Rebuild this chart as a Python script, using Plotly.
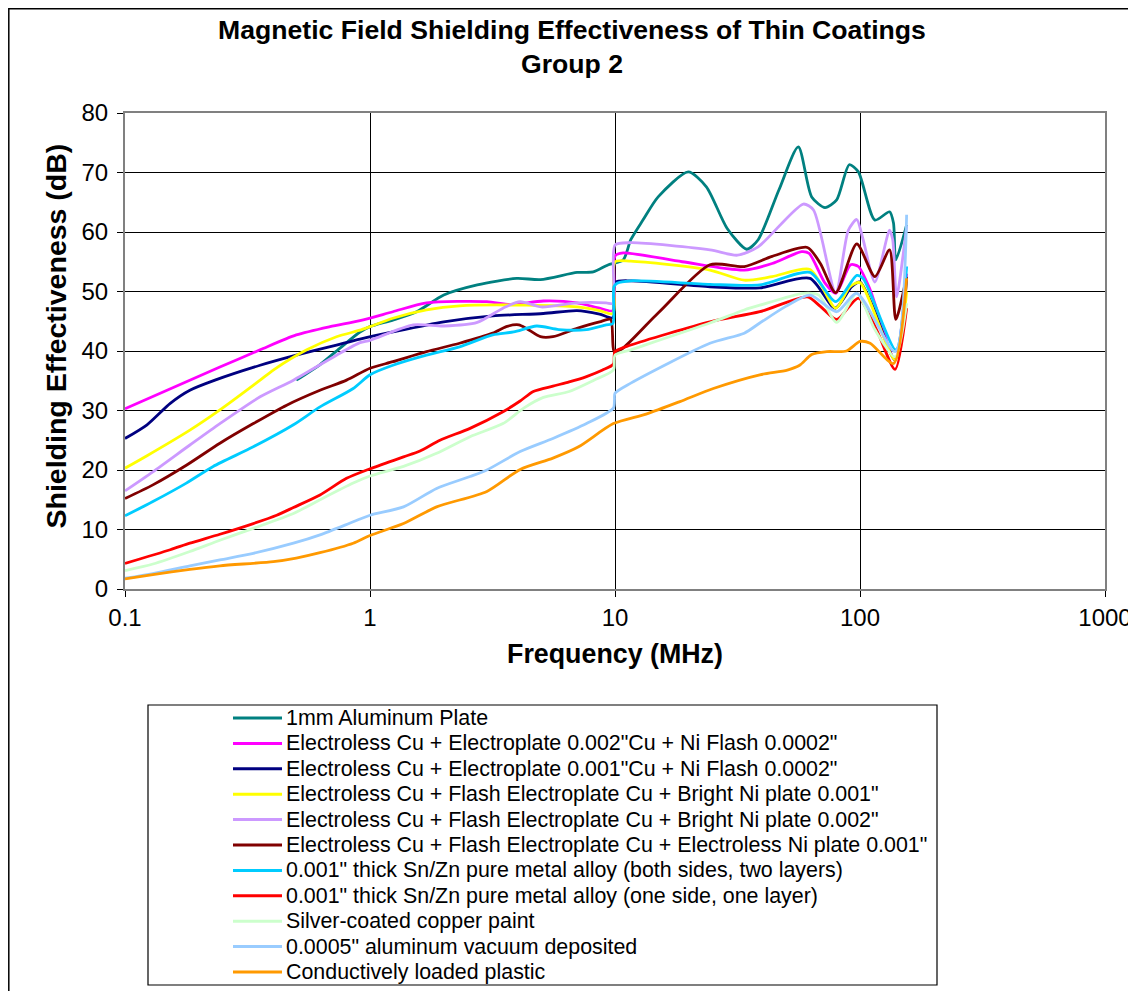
import plotly.graph_objects as go

# ---------------- data ----------------
names = [
    "1mm Aluminum Plate",
    "Electroless Cu + Electroplate 0.002\"Cu + Ni Flash 0.0002\"",
    "Electroless Cu + Electroplate 0.001\"Cu + Ni Flash 0.0002\"",
    "Electroless Cu + Flash Electroplate Cu + Bright Ni plate 0.001\"",
    "Electroless Cu + Flash Electroplate Cu + Bright Ni plate 0.002\"",
    "Electroless Cu + Flash Electroplate Cu + Electroless Ni plate 0.001\"",
    "0.001\" thick Sn/Zn pure metal alloy (both sides, two layers)",
    "0.001\" thick Sn/Zn pure metal alloy (one side, one layer)",
    "Silver-coated copper paint",
    "0.0005\" aluminum vacuum deposited",
    "Conductively loaded plastic",
]
colors = ["#008080", "#FF00FF", "#000080", "#FFFF00", "#CC99FF", "#800000",
          "#00CCFF", "#FF0000", "#CCFFCC", "#99CCFF", "#FF9900"]

al_f = [0.5, 0.62, 0.75, 0.91, 1.0, 1.24, 1.55, 2.0, 2.74, 3.97, 4.96, 7.0, 8.15, 9.4, 10.8,
        11.6, 13.0, 15.0, 19.9, 23.6, 28.7, 34.5, 38.4, 46.7, 56.0, 63.5, 72.0, 80.3, 90.4,
        98.5, 115, 132, 137, 140, 155]
al_db = [35.1, 37.6, 40.4, 43.2, 44.1, 45.2, 46.6, 49.4, 51.1, 52.2, 52.0, 53.2, 53.3, 54.5, 55.3,
         58.7, 62.0, 65.9, 70.1, 67.6, 60.6, 57.1, 58.7, 67.1, 74.3, 65.9, 64.1, 65.4, 71.3,
         70.1, 62.0, 63.4, 61.5, 55.3, 61.2]

cu2_f = [0.1, 0.244, 0.356, 0.5, 0.687, 0.91, 1.24, 1.70, 3.0, 3.73, 5.1, 7.0, 8.65, 9.8, 10.0,
         10.8, 18.8, 33.7, 43.8, 57.8, 62, 72, 79.6, 91.6, 98.5, 110, 139, 155]
cu2_db = [30.3, 37.3, 40.2, 42.7, 44.1, 45.1, 46.6, 48.1, 48.3, 47.8, 48.4, 48.1, 47.2, 46.8, 56.0,
          56.5, 55.0, 53.6, 54.7, 56.7, 56.4, 51.4, 49.7, 54.5, 54.2, 50.3, 38.5, 53.0]

cu1_f = [0.1, 0.123, 0.153, 0.184, 0.233, 0.356, 0.5, 0.73, 0.91, 1.24, 2.0, 3.17, 5.1, 7.0, 8.65,
         9.8, 10.0, 11.6, 24.4, 39, 62.5, 79, 92.5, 100, 113, 139, 155]
cu1_db = [25.3, 27.6, 31.2, 33.4, 35.1, 37.6, 39.3, 41.0, 42.0, 43.2, 44.9, 45.9, 46.3, 46.8, 46.2,
          45.6, 51.5, 51.8, 50.8, 50.6, 52.2, 47.2, 50.8, 51.6, 47.4, 38.5, 52.0]

bn1_f = [0.1, 0.123, 0.184, 0.244, 0.356, 0.403, 0.552, 0.73, 0.91, 1.0, 1.24, 1.70, 2.32, 4.35,
         7.0, 8.65, 9.8, 10.0, 11.6, 24.4, 33.7, 43.8, 62.5, 79.6, 91, 100, 139, 155]
bn1_db = [20.3, 22.4, 26.7, 30.1, 35.1, 36.8, 40.2, 42.4, 43.5, 44.1, 45.5, 46.9, 47.6, 47.7,
          47.4, 46.8, 46.3, 55.0, 55.1, 53.6, 51.9, 52.5, 53.7, 47.2, 50.8, 51.5, 38.5, 50.0]

bn2_f = [0.1, 0.130, 0.184, 0.244, 0.356, 0.487, 0.73, 0.91, 1.0, 1.5, 2.0, 2.74, 3.49, 4.1, 5.0,
         7.0, 9.2, 9.8, 10.0, 11.6, 24.4, 31.6, 38.4, 58.7, 64.6, 79.6, 89.6, 97, 103, 115, 132,
         136, 141, 155]
bn2_db = [16.5, 19.7, 24.2, 27.8, 32.3, 35.1, 39.3, 41.4, 41.8, 44.4, 44.2, 44.8, 47.2, 48.3, 47.4,
          48.1, 48.1, 48.0, 57.8, 58.2, 57.0, 56.1, 57.5, 64.7, 63.7, 49.8, 60.3, 62.1, 58.7, 51.6,
          60.3, 58.7, 49.1, 61.0]

en_f = [0.1, 0.130, 0.178, 0.244, 0.334, 0.457, 0.625, 0.802, 1.0, 1.24, 1.70, 2.32, 3.17, 3.6,
        4.05, 4.35, 4.96, 5.58, 7.0, 8.65, 9.6, 10.0, 15.0, 24.4, 33.7, 43.8, 61, 68.9, 79.6, 97,
        115, 132, 140, 155]
en_db = [15.2, 17.5, 20.8, 24.5, 27.8, 30.9, 33.4, 35.1, 37.1, 38.2, 39.9, 41.3, 43.0, 44.1,
         44.4, 43.8, 42.4, 42.4, 43.8, 44.9, 45.3, 39.7, 46.4, 54.5, 54.2, 55.9, 57.4, 54.7, 49.8,
         58.0, 52.5, 57.0, 45.3, 52.5]

sn2_f = [0.1, 0.130, 0.178, 0.229, 0.334, 0.487, 0.625, 0.854, 1.0, 1.24, 1.70, 2.32, 3.17, 3.86,
         4.79, 5.9, 7.65, 9.2, 9.8, 9.9, 10.2, 11.6, 24.4, 39, 62.5, 79.6, 97, 103, 140, 155]
sn2_db = [12.3, 14.7, 17.8, 20.6, 23.9, 27.6, 30.6, 33.7, 36.0, 37.6, 39.3, 40.7, 42.7, 43.2,
          44.2, 43.6, 43.6, 44.4, 44.6, 50.8, 51.4, 51.8, 51.2, 51.1, 53.2, 48.3, 52.7, 52.2,
          40.2, 54.2]

sn1_f = [0.1, 0.153, 0.184, 0.244, 0.334, 0.416, 0.487, 0.625, 0.802, 1.0, 1.37, 1.6, 1.93, 2.56,
         3.49, 4.1, 4.64, 5.58, 6.5, 7.65, 8.9, 9.85, 10.0, 11.6, 24.4, 39, 61, 68.9, 80.3, 98.5,
         117, 139, 155]
sn1_db = [4.3, 6.6, 7.7, 9.2, 11.0, 12.4, 13.7, 15.8, 18.6, 20.2, 22.2, 23.2, 25.0, 27.0,
          29.8, 31.6, 33.2, 34.1, 34.8, 35.7, 36.8, 37.8, 39.9, 41.0, 44.9, 46.6, 49.1, 47.5, 45.3,
          48.9, 43.5, 36.9, 47.2]

ag_f = [0.1, 0.130, 0.184, 0.244, 0.334, 0.487, 0.625, 0.854, 1.0, 1.37, 1.87, 2.56, 3.49, 4.24,
        5.1, 6.5, 8.2, 9.85, 10.0, 11.6, 24.4, 33.7, 39, 58.7, 68, 80.3, 97, 115, 139, 155]
ag_db = [3.1, 4.2, 6.3, 8.2, 10.2, 12.7, 15.0, 17.8, 19.0, 20.6, 22.8, 25.6, 27.8, 30.4,
         32.2, 33.2, 35.1, 36.8, 39.3, 40.2, 44.7, 46.9, 47.7, 49.7, 49.4, 44.8, 49.7, 43.6, 39.0,
         48.0]

vac_f = [0.1, 0.130, 0.184, 0.244, 0.334, 0.487, 0.625, 0.854, 1.0, 1.37, 1.87, 2.56, 3.0, 4.1,
         5.58, 7.65, 9.85, 9.95, 10.0, 11.6, 24.4, 33.7, 39, 49.8, 62.5, 80.3, 97, 139, 155]
vac_db = [1.8, 2.6, 3.9, 4.9, 6.0, 7.7, 9.1, 11.3, 12.4, 13.8, 16.9, 18.9, 20.0, 23.1,
          25.3, 27.8, 30.4, 31.8, 32.9, 34.6, 41.3, 43.0, 44.7, 47.5, 49.4, 46.6, 49.7, 39.9, 62.9]

pl_f = [0.1, 0.130, 0.184, 0.244, 0.403, 0.5, 0.625, 0.854, 1.0, 1.37, 1.87, 3.0, 4.1, 5.58, 7.1,
        9.85, 13.4, 18.4, 25.2, 39, 50.5, 56.7, 63.5, 73.2, 88, 100, 110, 137, 155]
pl_db = [1.7, 2.4, 3.3, 3.9, 4.6, 5.2, 6.1, 7.7, 9.0, 11.0, 13.8, 16.4, 20.1, 22.0, 23.9,
         27.8, 29.4, 31.5, 33.7, 36.0, 36.8, 37.6, 39.4, 39.9, 40.0, 41.6, 41.3, 37.9, 52.2]

series_f = [al_f, cu2_f, cu1_f, bn1_f, bn2_f, en_f, sn2_f, sn1_f, ag_f, vac_f, pl_f]
series_db = [al_db, cu2_db, cu1_db, bn1_db, bn2_db, en_db, sn2_db, sn1_db, ag_db, vac_db, pl_db]

x_tickvals = [0.1, 1, 10, 100, 1000]
x_ticktext = ["0.1", "1", "10", "100", "1000"]
y_tickvals = [0, 10, 20, 30, 40, 50, 60, 70, 80]

# ---------------- figure ----------------
# the page body has an 8px margin, so the figure is laid out 8px smaller
OFF = 8
W, H = 1136 - OFF, 991 - OFF
PL, PR, PT, PB = 125, 1105, 113, 589          # plot area in screen pixels
L, R, T, B = PL - OFF, OFF + W - PR, PT - OFF, OFF + H - PB
PW, PH = PR - PL, PB - PT
FONT = "Arial, Liberation Sans, sans-serif"


def px2x(px):
    return (px - PL) / PW


def px2y(py):
    return (PB - py) / PH


fig = go.Figure()
for nm, col, fx, dy in zip(names, colors, series_f, series_db):
    fig.add_trace(go.Scatter(x=fx, y=dy, name=nm, mode="lines",
                             line=dict(color=col, width=2.8, shape="spline", smoothing=0.7),
                             showlegend=False))

shapes = []
annotations = []
# outer chart frame
shapes.append(dict(type="rect", xref="paper", yref="paper",
                   x0=px2x(8.8), x1=px2x(1133), y0=px2y(1000), y1=px2y(8.8),
                   line=dict(color="black", width=1.5), layer="below"))
# legend box
shapes.append(dict(type="rect", xref="paper", yref="paper",
                   x0=px2x(148), x1=px2x(937), y0=px2y(985), y1=px2y(705),
                   line=dict(color="black", width=1.2)))
for i, (nm, col) in enumerate(zip(names, colors)):
    yc = 718 + 25.4 * i
    shapes.append(dict(type="line", xref="paper", yref="paper",
                       x0=px2x(233), x1=px2x(282), y0=px2y(yc), y1=px2y(yc),
                       line=dict(color=col, width=3)))
    annotations.append(dict(text=nm, xref="paper", yref="paper", x=px2x(284), y=px2y(yc),
                            xanchor="left", yanchor="middle", showarrow=False,
                            font=dict(family=FONT, size=21.4, color="black")))

# y-axis title (placed as in the reference, slightly above the plot centre)
annotations.append(dict(text="<b>Shielding Effectiveness (dB)</b>", xref="paper", yref="paper",
                        x=px2x(55), y=px2y(336.5), xanchor="center", yanchor="middle",
                        textangle=-90, showarrow=False,
                        font=dict(family=FONT, size=28.5, color="black")))

fig.update_layout(
    width=W, height=H,
    margin=dict(l=L, r=R, t=T, b=B, autoexpand=False),
    paper_bgcolor="white", plot_bgcolor="white",
    font=dict(family=FONT, color="black"),
    title=dict(text="<b>Magnetic Field Shielding Effectiveness of Thin Coatings<br>Group 2</b>",
               xref="container", x=(572 - OFF) / W, yref="container", y=1 - 30.5 / H,
               xanchor="center", yanchor="middle",
               font=dict(family=FONT, size=26.6, color="black")),
    shapes=shapes, annotations=annotations,
    showlegend=False,
)
fig.update_xaxes(type="log", range=[-1, 3], tickvals=x_tickvals, ticktext=x_ticktext,
                 automargin=False,
                 showgrid=True, gridcolor="black", gridwidth=1,
                 showline=True, linecolor="#808080", linewidth=2, mirror=True,
                 ticks="outside", ticklen=6, tickcolor="black",
                 tickfont=dict(family=FONT, size=24, color="black"),
                 title=dict(text="<b>Frequency (MHz)</b>", standoff=14,
                            font=dict(family=FONT, size=26.8, color="black")),
                 zeroline=False)
fig.update_yaxes(range=[0, 80], tickvals=y_tickvals, automargin=False,
                 showgrid=True, gridcolor="black", gridwidth=1,
                 showline=True, linecolor="#808080", linewidth=2, mirror=True,
                 ticks="outside", ticklen=6, tickcolor="black", ticklabelstandoff=4,
                 tickfont=dict(family=FONT, size=24, color="black"),
                 zeroline=False)

fig.write_html("out.html")
